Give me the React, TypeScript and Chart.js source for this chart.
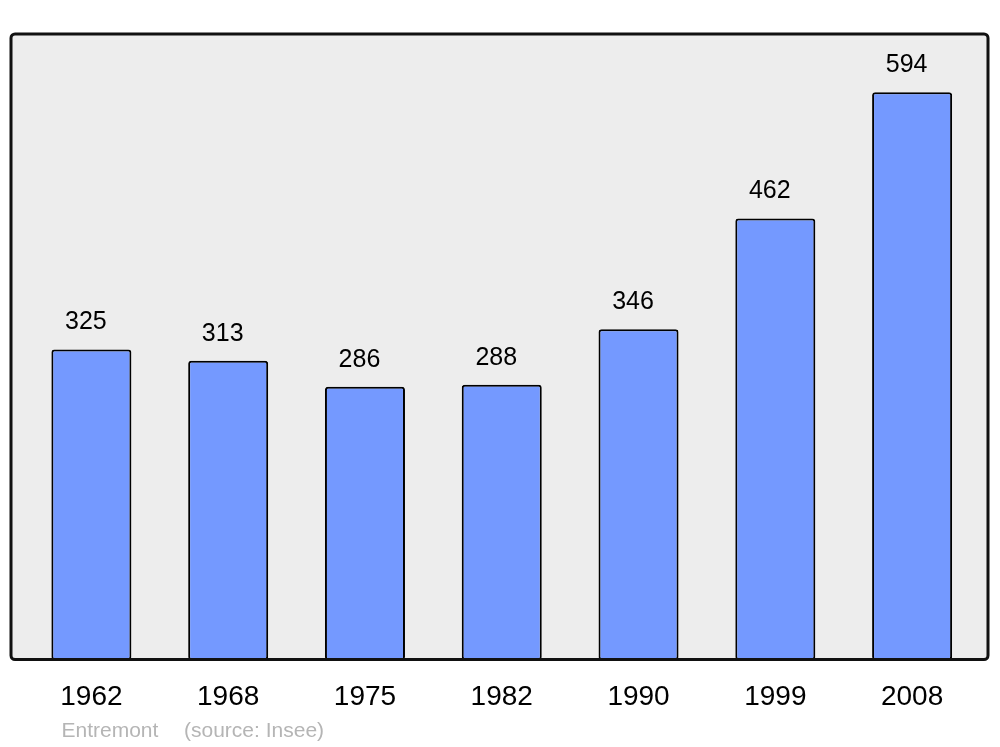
import React, { useEffect, useRef } from "react";
import { Chart, registerables } from "chart.js";

Chart.register(...registerables);

const years = ["1962", "1968", "1975", "1982", "1990", "1999", "2008"];
const population = [325, 313, 286, 288, 346, 462, 594];
const footerName = "Entremont";
const footerSource = "(source: Insee)";

const FONT = "'Liberation Sans', Arial, sans-serif";

function roundRect(ctx: CanvasRenderingContext2D, x: number, y: number, w: number, h: number, r: number) {
  ctx.beginPath();
  ctx.moveTo(x + r, y);
  ctx.lineTo(x + w - r, y);
  ctx.arcTo(x + w, y, x + w, y + r, r);
  ctx.lineTo(x + w, y + h - r);
  ctx.arcTo(x + w, y + h, x + w - r, y + h, r);
  ctx.lineTo(x + r, y + h);
  ctx.arcTo(x, y + h, x, y + h - r, r);
  ctx.lineTo(x, y + r);
  ctx.arcTo(x, y, x + r, y, r);
  ctx.closePath();
}

const framePlugin = {
  id: "frame",
  beforeDatasetsDraw(chart: any) {
    const { ctx, chartArea } = chart;
    const x = chartArea.left - 12;
    const w = chartArea.right + 7.5 - x;
    const y = chartArea.top;
    const h = chartArea.bottom - 0.5 - y;
    ctx.save();
    roundRect(ctx, x, y, w, h, 4);
    ctx.fillStyle = "#ededed";
    ctx.fill();
    ctx.restore();
  },
  afterDatasetsDraw(chart: any) {
    const { ctx, chartArea } = chart;
    const x = chartArea.left - 12;
    const w = chartArea.right + 7.5 - x;
    const y = chartArea.top;
    const h = chartArea.bottom - 0.5 - y;
    ctx.save();
    roundRect(ctx, x, y, w, h, 4);
    ctx.lineWidth = 3;
    ctx.strokeStyle = "#111111";
    ctx.stroke();

    // value labels
    const meta = chart.getDatasetMeta(0);
    ctx.fillStyle = "#000000";
    ctx.font = `25px ${FONT}`;
    ctx.textAlign = "center";
    ctx.textBaseline = "middle";
    meta.data.forEach((bar: any, i: number) => {
      ctx.fillText(String(population[i]), bar.x - 5.5, bar.y - 27);
    });

    // footer
    ctx.fillStyle = "#b5b5b5";
    ctx.font = `21px ${FONT}`;
    ctx.textAlign = "left";
    ctx.textBaseline = "alphabetic";
    ctx.fillText(footerName, 61.5, 737);
    ctx.fillText(footerSource, 184, 737);
    ctx.restore();
  },
};

export default function App() {
  const ref = useRef<HTMLCanvasElement | null>(null);
  useEffect(() => {
    document.body.style.margin = "0";
    const chart = new Chart(ref.current as HTMLCanvasElement, {
      type: "bar",
      data: {
        labels: years,
        datasets: [
          {
            data: population,
            backgroundColor: "#7499ff",
            borderColor: "#000000",
            borderWidth: 2,
            borderRadius: 3,
            borderSkipped: false,
            barPercentage: 0.585,
            categoryPercentage: 1,
          },
        ],
      },
      options: {
        responsive: false,
        animation: false,
        layout: { padding: { left: 23, right: 19.5, top: 34, bottom: 0 } },
        plugins: {
          legend: { display: false },
          tooltip: { enabled: false },
          title: { display: false },
        },
        scales: {
          x: {
            grid: { display: false, drawTicks: false },
            border: { display: false },
            ticks: {
              color: "#000000",
              font: { size: 28, family: FONT },
              padding: 20,
              maxRotation: 0,
            },
            afterFit: (scale: any) => {
              scale.height = 87;
            },
          },
          y: {
            display: false,
            min: 0,
            max: 655,
          },
        },
      },
      plugins: [framePlugin],
    });
    return () => chart.destroy();
  }, []);
  return (
    <div style={{ position: "absolute", left: 0, top: 0, width: 1000, height: 747, background: "#ffffff" }}>
      <canvas ref={ref} width={1000} height={747} />
    </div>
  );
}
